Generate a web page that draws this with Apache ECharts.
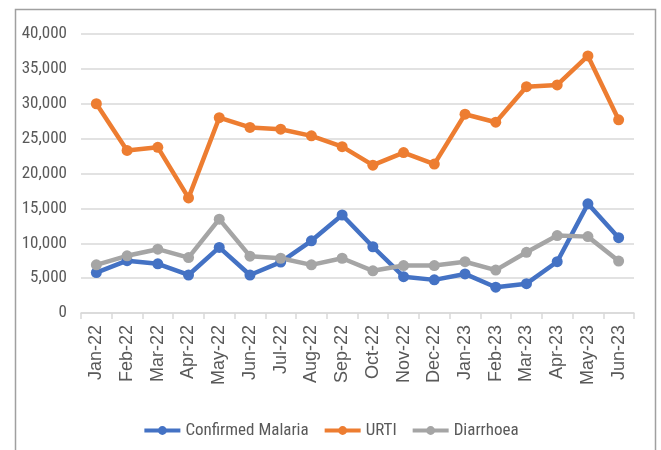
<!DOCTYPE html>
<html>
<head>
<meta charset="utf-8">
<script src="https://cdn.jsdelivr.net/npm/echarts@6/dist/echarts.min.js"></script>
<style>
  html, body { margin: 0; padding: 0; background: #fff; }
  #main { width: 661px; height: 450px; }
</style>
</head>
<body>
<div id="main"></div>
<script>
// months on the x axis
var months = ['Jan-22', 'Feb-22', 'Mar-22', 'Apr-22', 'May-22', 'Jun-22', 'Jul-22', 'Aug-22', 'Sep-22',
  'Oct-22', 'Nov-22', 'Dec-22', 'Jan-23', 'Feb-23', 'Mar-23', 'Apr-23', 'May-23', 'Jun-23'];

// values
var malaria = [5800, 7500, 7050, 5450, 9400, 5450, 7300, 10350, 14050,
  9500, 5200, 4750, 5600, 3700, 4200, 7350, 15650, 10800];
var urti = [30000, 23300, 23750, 16500, 28000, 26600, 26350, 25400, 23850,
  21200, 23000, 21350, 28500, 27350, 32450, 32700, 36850, 27700];
var diarrhoea = [6900, 8200, 9150, 7950, 13450, 8150, 7850, 6900, 7850,
  6050, 6800, 6800, 7350, 6150, 8700, 11100, 10950, 7450];

var labelFont = '"Liberation Sans Narrow", "Roboto Condensed", "Liberation Sans", sans-serif';

function line(name, data, color) {
  return {
    name: name,
    type: 'line',
    data: data,
    symbol: 'circle',
    symbolSize: 11,
    lineStyle: { width: 4.5, color: color },
    itemStyle: { color: color },
    emphasis: { disabled: true }
  };
}

var myChart = echarts.init(document.getElementById('main'));
myChart.setOption({
  animation: false,
  graphic: [{
    type: 'rect',
    shape: { x: 15.5, y: 9.5, width: 640, height: 470 },
    style: { fill: 'none', stroke: '#a0a0a0', lineWidth: 1.5 },
    silent: true
  }],
  grid: { left: 81, right: 27, top: 34, bottom: 137 },
  legend: {
    bottom: 6,
    left: 'center',
    itemWidth: 36,
    itemHeight: 11,
    itemGap: 14,
    lineStyle: { width: 4 },
    textStyle: { color: '#595959', fontSize: 17, fontFamily: labelFont },
    data: ['Confirmed Malaria', 'URTI', 'Diarrhoea']
  },
  xAxis: {
    type: 'category',
    data: months,
    axisLine: { lineStyle: { color: '#d9d9d9', width: 1.5 } },
    axisTick: { show: true, length: 6, lineStyle: { color: '#d9d9d9', width: 1.5 } },
    axisLabel: {
      rotate: 90,
      interval: 0,
      margin: 12,
      color: '#595959',
      fontSize: 18,
      fontFamily: '"Liberation Sans", Arial, sans-serif'
    }
  },
  yAxis: {
    type: 'value',
    min: 0,
    max: 40000,
    interval: 5000,
    axisLine: { show: false },
    axisTick: { show: false },
    splitLine: { lineStyle: { color: '#d9d9d9', width: 1.5 } },
    axisLabel: {
      margin: 14,
      color: '#595959',
      fontSize: 17,
      fontFamily: labelFont,
      formatter: function (v) { return v.toLocaleString('en-US'); }
    }
  },
  series: [
    line('Confirmed Malaria', malaria, '#4472c4'),
    line('URTI', urti, '#ed7d31'),
    line('Diarrhoea', diarrhoea, '#a5a5a5')
  ]
});
</script>
</body>
</html>
